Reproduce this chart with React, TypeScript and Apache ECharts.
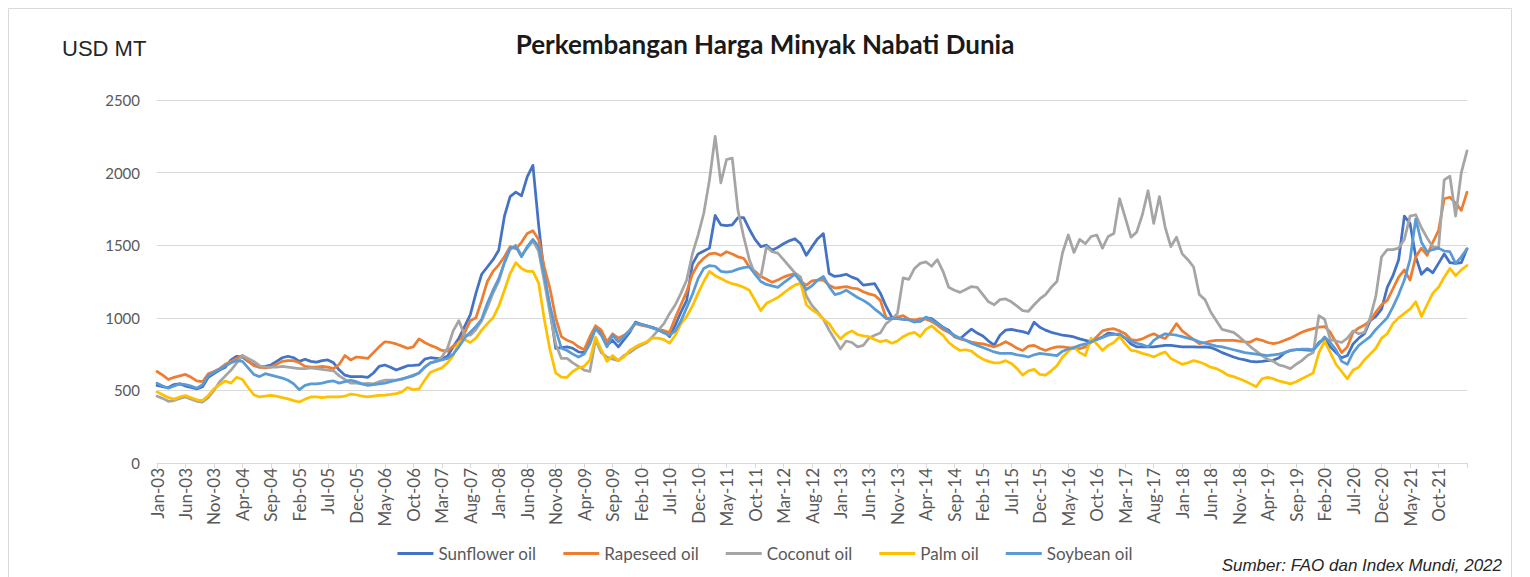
import React, { useEffect, useRef } from "react";
import * as echarts from "echarts";

const MONTHS = ["Jan", "Feb", "Mar", "Apr", "May", "Jun", "Jul", "Aug", "Sep", "Oct", "Nov", "Dec"];
const FIRST_YEAR = 2003;
const LAST_YEAR = 2022;
const LAST_MONTH_2022 = 3; // Jan-Mar 2022

const CATEGORIES: string[] = [];
for (let y = FIRST_YEAR; y <= LAST_YEAR; y++) {
  const n = y === LAST_YEAR ? LAST_MONTH_2022 : 12;
  for (let m = 0; m < n; m++) CATEGORIES.push(`${MONTHS[m]}-${String(y).slice(2)}`);
}

const SERIES_NAMES = ["Sunflower oil", "Rapeseed oil", "Coconut oil", "Palm oil", "Soybean oil"];
const SERIES_COLORS = ["#4472C4", "#ED7D31", "#A5A5A5", "#FFC000", "#5B9BD5"];

const SUNFLOWER = [
  535, 525, 520, 540, 545, 530, 520, 510, 525, 590, 615, 640,
  660, 710, 735, 730, 700, 675, 660, 665, 675, 700, 725, 735,
  725, 700, 715, 700, 695, 705, 710, 690, 640, 605, 595, 595,
  595, 590, 620, 665, 675, 660, 640, 655, 670, 672, 675, 715,
  725, 720, 720, 735, 800, 860, 940, 1020, 1170, 1300, 1350, 1400,
  1465, 1700, 1835, 1865, 1840, 1970, 2050, 1640, 1290, 1060, 790, 795,
  800, 790, 765, 760, 860, 935, 890, 810, 845, 800, 850, 900,
  970, 955, 945, 935, 920, 910, 870, 950, 1040, 1120, 1370, 1440,
  1460, 1480, 1705, 1640, 1635, 1640, 1690, 1690, 1610, 1540, 1490, 1500,
  1465, 1485, 1510, 1530, 1545, 1510, 1430, 1490, 1545, 1580, 1305, 1285,
  1290, 1300, 1280, 1265, 1225, 1230, 1235, 1170, 1080, 1005, 995, 990,
  990, 975, 975, 1000, 995, 965, 935, 915, 870, 856, 890, 922,
  895, 875, 840, 812, 880, 915, 920, 912, 905, 892, 970, 935,
  915, 900, 890, 880, 875, 868, 855, 845, 835, 850, 868, 895,
  890, 880, 860, 820, 800, 800, 800, 800, 805, 810, 810, 805,
  800, 800, 800, 798, 800, 795, 780, 760, 745, 730, 718, 710,
  700, 696, 700, 705, 707, 725, 760, 775, 780, 781, 778, 776,
  830, 855, 800, 760, 725, 740, 820, 860, 890, 980, 1010, 1060,
  1210, 1290, 1400, 1700, 1650, 1420, 1300, 1340, 1310, 1375, 1440, 1380,
  1375, 1380, 1475,
];

const RAPESEED = [
  630, 605, 575, 590, 600, 610, 590, 565, 560, 615, 630, 650,
  680, 700, 720, 740, 705, 670, 660, 655, 660, 680, 700, 705,
  705, 690, 665, 660, 660, 665, 660, 650, 680, 740, 710, 730,
  725, 720, 760, 800, 835, 830, 820, 805, 790, 800, 855, 830,
  810, 795, 775, 770, 805, 830, 895, 980, 1000, 1120, 1250, 1320,
  1365, 1420, 1490, 1475, 1520, 1580, 1600, 1540, 1350, 1200, 1000, 870,
  845, 830, 800, 780, 870, 945, 915, 835, 890, 860, 880, 910,
  960, 950, 940, 930, 920, 910, 900, 1000, 1090, 1180, 1300, 1370,
  1410, 1440, 1445, 1430, 1455, 1440, 1420, 1410, 1350, 1320, 1285, 1265,
  1245, 1260, 1280, 1295, 1305, 1250, 1225, 1255, 1260, 1260, 1225, 1205,
  1210, 1215, 1205, 1200, 1180, 1165, 1155, 1120, 1000, 995, 1005, 1015,
  990, 985, 995, 990, 975, 950, 920, 900, 875, 855, 845, 833,
  825, 820, 810, 800, 815, 835, 815, 790, 775, 805, 810, 790,
  775, 790, 800, 800, 795, 790, 787, 800, 830, 870, 910, 920,
  925, 910, 890, 850, 845, 855, 875, 890, 870, 857, 900, 960,
  910, 880, 850, 822, 830, 840, 845, 845, 845, 845, 840, 835,
  833, 855, 845, 830, 822, 830, 845, 860, 880, 900, 915, 925,
  935, 940, 900, 830, 760, 800, 900, 930, 950, 980, 1040, 1090,
  1120, 1200, 1280, 1330, 1260, 1420, 1480, 1430, 1520, 1600, 1820, 1830,
  1790, 1740, 1865,
];

const COCONUT = [
  460, 445, 425, 430, 445, 455, 440, 425, 420, 450, 500, 560,
  600, 640, 690, 740, 720, 700, 670, 660, 660, 660, 665, 660,
  655, 650, 650, 655, 650, 645, 640, 635, 600, 575, 550, 550,
  545, 548, 545, 560, 570, 570, 570, 575, 590, 605, 620, 660,
  690, 700, 730, 790, 910, 980, 880, 880, 920, 980, 1070, 1170,
  1250, 1380, 1470, 1500, 1430, 1480, 1530, 1460, 1250, 1030, 820, 720,
  720, 690, 665, 640, 630, 850, 760, 730, 715, 705, 740, 760,
  790, 810, 830, 870, 915, 960, 1030, 1090, 1170, 1260, 1440, 1570,
  1720, 1950, 2250, 1930, 2090, 2100, 1740, 1560, 1400, 1300, 1280, 1490,
  1455, 1445, 1400, 1355, 1310, 1280, 1150, 1085, 1040, 990, 915, 850,
  785, 840, 830, 800, 810, 860, 880, 895, 960, 990, 1030, 1275,
  1265, 1340, 1375, 1385, 1355, 1400, 1320, 1210, 1190, 1175, 1195, 1215,
  1210, 1160, 1110, 1090, 1125, 1130, 1110, 1080, 1050, 1045, 1090, 1130,
  1160, 1210, 1250, 1450, 1570, 1450, 1540, 1510, 1560, 1570, 1480, 1560,
  1580, 1820, 1690, 1555, 1590, 1710, 1875, 1650, 1835, 1625, 1490, 1555,
  1440, 1400, 1350, 1160, 1125, 1040, 980, 920, 910, 900, 870, 835,
  800, 770, 740, 715, 700, 675, 665, 650, 680, 705, 740, 760,
  1015, 990, 850, 840, 830, 860, 910, 890, 900, 1000, 1150, 1420,
  1470, 1470, 1480, 1540, 1700, 1710, 1620, 1550, 1490, 1480, 1950, 1975,
  1700, 2000, 2150,
];

const PALM = [
  490, 470, 450, 440, 455, 465, 450, 435, 430, 465, 510, 540,
  565, 550, 590, 575, 520, 470, 455, 460, 465, 460, 450, 442,
  430, 420, 440, 455, 455, 450, 455, 455, 455, 460, 475, 470,
  460, 455, 460, 465, 468, 472, 478, 490, 520, 505, 510, 570,
  625, 640, 655, 690, 740, 830, 850, 830, 860, 915, 960, 1000,
  1080, 1190, 1305, 1380, 1340, 1320, 1320, 1240, 990, 780, 620, 592,
  590, 630, 655, 665, 710, 865, 780, 700, 740, 705, 730, 775,
  800, 820, 835, 860, 860, 850, 825, 880, 960, 1010, 1080, 1170,
  1250, 1320, 1290, 1270, 1250, 1235, 1225, 1210, 1190, 1120, 1050, 1100,
  1120, 1140, 1170, 1200, 1225, 1240, 1090, 1055, 1030, 990, 960, 900,
  855, 890, 910, 885, 875, 870, 850, 835, 845, 825, 840, 870,
  890, 900, 870, 920, 945, 910, 880, 830, 800, 775, 780, 770,
  740, 715, 700, 690, 690, 705, 685, 650, 605, 635, 645, 610,
  605, 635, 670, 730, 770, 800, 760, 740, 860, 820, 775, 810,
  830, 870, 820, 775, 770, 755, 745, 730, 750, 765, 720, 700,
  680, 690, 705, 695, 680, 660, 650, 630, 605, 595, 580, 565,
  545, 525, 580, 590, 580, 565, 555, 545, 560, 580, 600, 620,
  760, 840, 760, 680, 630, 580, 640, 660, 710, 750, 790, 860,
  890, 960, 1000, 1030, 1060, 1110, 1010, 1090, 1170, 1210, 1280, 1340,
  1290, 1330, 1360,
];

const SOYBEAN = [
  550, 530, 515, 530, 545, 540, 530, 515, 540, 600, 625, 645,
  670, 690, 705, 700, 655, 610, 595, 615, 605, 595, 585, 570,
  545, 505, 535, 545, 545, 550, 560, 565, 550, 560, 570, 560,
  545, 535, 540, 545, 550, 560, 570, 580, 590, 600, 620, 660,
  690, 700, 710, 720, 750, 800, 860, 900, 940, 990, 1100, 1190,
  1270, 1380, 1480, 1490, 1420, 1490, 1540, 1490, 1290, 1080, 920, 790,
  775, 750, 730, 750, 820, 925, 880, 800, 880, 835, 870, 915,
  965, 955, 945, 930, 915, 895, 880, 910, 980, 1070, 1160, 1270,
  1340, 1360, 1355, 1320, 1315, 1320, 1335, 1345, 1350, 1300, 1250, 1230,
  1220, 1210, 1240, 1270, 1300, 1250, 1195, 1220, 1260, 1285, 1215, 1160,
  1170, 1190, 1165, 1140, 1120, 1095, 1060, 1030, 995, 995, 995, 990,
  985, 970, 980, 1005, 985, 960, 935, 905, 880, 860, 845, 825,
  810, 795, 780, 765, 755, 755, 755, 745, 740, 730, 745, 755,
  750, 745, 740, 770, 785, 795, 810, 820, 835, 850, 865, 880,
  885, 890, 860, 840, 825, 815, 800, 845, 870, 890, 885, 880,
  870, 860, 850, 835, 825, 815, 805, 800, 790, 780, 770, 760,
  755, 750, 745, 740, 745, 750, 760, 775, 780, 785, 785, 780,
  820, 868, 830, 780, 700, 680, 760, 810, 840, 870, 920, 960,
  1000, 1075, 1160, 1260, 1400, 1680, 1520, 1455, 1470, 1480, 1460, 1455,
  1375, 1420, 1475,
];

const SERIES_DATA = [SUNFLOWER, RAPESEED, COCONUT, PALM, SOYBEAN];

const Y_MIN = 0;
const Y_MAX = 2500;
const Y_STEP = 500;
const LABEL_EVERY = 5;

const TITLE = "Perkembangan Harga Minyak Nabati Dunia";
const UNIT = "USD MT";
const SOURCE = "Sumber: FAO dan Index Mundi, 2022";

const FONT = "Lato, 'Noto Sans', sans-serif";
const LABEL_COLOR = "#595959";
const GRID_COLOR = "#d9d9d9";

export default function App() {
  const ref = useRef<HTMLDivElement>(null);

  useEffect(() => {
    if (!ref.current) return;
    const chart = echarts.init(ref.current, null, { renderer: "svg" });
    const lastIdx = CATEGORIES.length - 1;
    chart.setOption({
      animation: false,
      backgroundColor: "#ffffff",
      title: {
        text: TITLE,
        left: "center",
        top: 26,
        textStyle: { fontFamily: FONT, fontWeight: "bold", fontSize: 26, color: "#1a1a1a" },
      },
      legend: {
        data: SERIES_NAMES,
        top: 540,
        left: "center",
        icon: "rect",
        itemWidth: 36,
        itemHeight: 3,
        itemGap: 27,
        textStyle: { fontFamily: FONT, fontSize: 17, color: LABEL_COLOR },
      },
      grid: { left: 157, right: 63, top: 100, bottom: 114, containLabel: false },
      xAxis: {
        type: "category",
        data: CATEGORIES,
        boundaryGap: false,
        axisLine: { lineStyle: { color: GRID_COLOR, width: 1 } },
        axisTick: { show: true, interval: LABEL_EVERY - 1, length: 5, lineStyle: { color: GRID_COLOR } },
        axisLabel: {
          interval: (i: number) => i % LABEL_EVERY === 0 && i < lastIdx,
          rotate: 90,
          margin: 5,
          fontFamily: FONT,
          fontSize: 17,
          color: LABEL_COLOR,
        },
        splitLine: { show: false },
      },
      yAxis: {
        type: "value",
        min: Y_MIN,
        max: Y_MAX,
        interval: Y_STEP,
        axisLine: { show: false },
        axisTick: { show: false },
        axisLabel: {
          margin: 17,
          fontFamily: FONT,
          fontSize: 15,
          color: LABEL_COLOR,
          formatter: (v: number) => String(v),
        },
        splitLine: { lineStyle: { color: GRID_COLOR, width: 1 } },
      },
      series: SERIES_NAMES.map((name, k) => ({
        name,
        type: "line",
        data: SERIES_DATA[k],
        symbol: "none",
        showSymbol: false,
        smooth: false,
        color: SERIES_COLORS[k],
        lineStyle: { width: 2.75, color: SERIES_COLORS[k], join: "round", cap: "round" },
        emphasis: { disabled: true },
      })),
      graphic: [
        {
          type: "rect",
          silent: true,
          z: -10,
          shape: { x: 8.5, y: 8.5, width: 1503, height: 640 },
          style: { fill: "none", stroke: "#d9d9d9", lineWidth: 1 },
        },
        {
          type: "text",
          left: 62,
          top: 37,
          style: {
            text: UNIT,
            fontFamily: "'Liberation Sans', Arial, sans-serif",
            fontSize: 22,
            fill: "#262626",
          },
        },
        {
          type: "text",
          right: 28,
          top: 557,
          style: {
            text: SOURCE,
            fontFamily: "'Liberation Sans', Arial, sans-serif",
            fontStyle: "italic",
            fontSize: 17,
            fill: "#262626",
          },
        },
      ],
    });
    return () => chart.dispose();
  }, []);

  return (
    <div
      ref={ref}
      style={{ position: "fixed", left: 0, top: 0, width: 1530, height: 577, background: "#fff" }}
    />
  );
}
